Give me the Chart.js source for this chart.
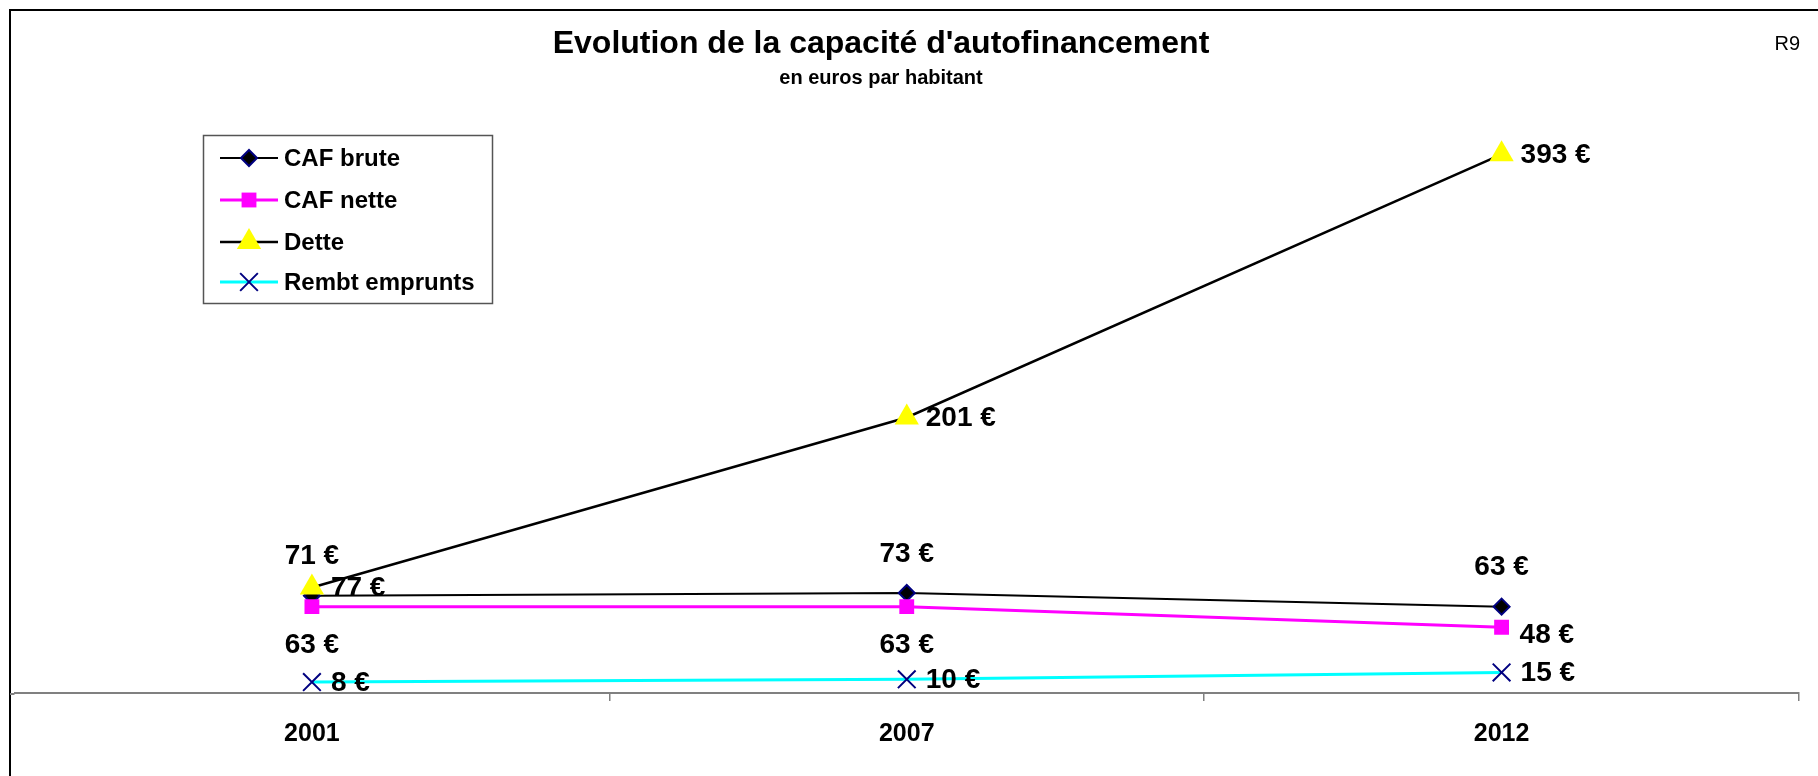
<!DOCTYPE html>
<html>
<head>
<meta charset="utf-8">
<title>Evolution de la capacité d'autofinancement</title>
<script src="https://cdn.jsdelivr.net/npm/chart.js@4.4.1/dist/chart.umd.min.js"></script>
<style>
  html, body { margin: 0; padding: 0; background: #fff; }
  #wrap { position: relative; width: 1818px; height: 776px; }
</style>
</head>
<body>
<div id="wrap"><canvas id="cafChart"></canvas></div>
<script>
// Data (euros par habitant)
const years = ['2001', '2007', '2012'];
const cafBrute = [71, 73, 63];
const cafNette = [63, 63, 48];
const dette = [77, 201, 393];
const rembt = [8, 10, 15];

const FONT = '"Liberation Sans", Arial, sans-serif';

// where each series puts its value labels
const labelPos = {
  'CAF brute': ['above', 'above', 'above'],
  'CAF nette': ['below', 'below', 'rightLow'],
  'Dette': ['right', 'right', 'right'],
  'Rembt emprunts': ['right', 'right', 'right'],
};

// Frame, titles and legend drawn on the canvas
const decorPlugin = {
  id: 'decor',
  beforeDraw(chart) {
    const c = chart.ctx;
    const area = chart.chartArea;
    c.save();
    c.strokeStyle = '#000';
    c.lineWidth = 2;
    c.beginPath();
    c.moveTo(10, 776);
    c.lineTo(10, 10);
    c.lineTo(1818, 10);
    c.stroke();
    // axis line runs up to the frame
    c.strokeStyle = '#808080';
    c.beginPath();
    c.moveTo(10, area.bottom + 1);
    c.lineTo(area.left, area.bottom + 1);
    c.stroke();
    c.restore();
  },
  afterDraw(chart) {
    const c = chart.ctx;
    c.save();
    c.fillStyle = '#000';
    c.textBaseline = 'middle';
    c.textAlign = 'center';
    c.font = 'bold 32px ' + FONT;
    c.fillText("Evolution de la capacité d'autofinancement", 881, 44);
    c.font = 'bold 20px ' + FONT;
    c.fillText('en euros par habitant', 881, 78);
    c.textAlign = 'right';
    c.font = '20px ' + FONT;
    c.fillText('R9', 1800, 44);

    // legend box
    c.strokeStyle = '#555';
    c.lineWidth = 1.5;
    c.strokeRect(203.5, 135.5, 289, 168);
    const rows = [158, 200, 242, 282];
    chart.data.datasets.forEach((ds, i) => {
      const y = rows[i];
      c.strokeStyle = ds.borderColor;
      c.lineWidth = ds.borderWidth;
      c.beginPath();
      c.moveTo(220, y);
      c.lineTo(278, y);
      c.stroke();
      c.fillStyle = ds.pointBackgroundColor;
      c.strokeStyle = ds.pointBorderColor;
      c.lineWidth = ds.pointBorderWidth;
      Chart.helpers.drawPoint(c, {
        pointStyle: ds.pointStyle,
        radius: ds.pointRadius,
        rotation: 0,
        borderWidth: ds.pointBorderWidth,
      }, 249, y);
      c.fillStyle = '#000';
      c.textAlign = 'left';
      c.font = 'bold 24px ' + FONT;
      c.fillText(ds.label, 284, y + 1);
    });
    c.restore();
  },
  afterDatasetsDraw(chart) {
    const c = chart.ctx;
    c.save();
    c.fillStyle = '#000';
    c.font = 'bold 28px ' + FONT;
    c.textBaseline = 'middle';
    chart.data.datasets.forEach((ds, i) => {
      const meta = chart.getDatasetMeta(i);
      meta.data.forEach((pt, j) => {
        const txt = ds.data[j] + ' €';
        const pos = labelPos[ds.label][j];
        if (pos === 'above') {
          c.textAlign = 'center';
          c.fillText(txt, pt.x, pt.y - 39);
        } else if (pos === 'below') {
          c.textAlign = 'center';
          c.fillText(txt, pt.x, pt.y + 39);
        } else if (pos === 'rightLow') {
          c.textAlign = 'left';
          c.fillText(txt, pt.x + 18, pt.y + 8);
        } else {
          c.textAlign = 'left';
          c.fillText(txt, pt.x + 19, pt.y + 1);
        }
      });
    });
    c.restore();
  },
};

const ctx = document.getElementById('cafChart').getContext('2d');

const chart = new Chart(ctx, {
  type: 'line',
  data: {
    labels: years,
    datasets: [
      {
        label: 'CAF brute',
        data: cafBrute,
        borderColor: '#000000',
        borderWidth: 2,
        pointStyle: 'rectRot',
        pointRadius: 8,
        pointBackgroundColor: '#000000',
        pointBorderColor: '#000080',
        pointBorderWidth: 2,
        order: 3,
      },
      {
        label: 'CAF nette',
        data: cafNette,
        borderColor: '#FF00FF',
        borderWidth: 3,
        pointStyle: 'rect',
        pointRadius: 10.5,
        pointBackgroundColor: '#FF00FF',
        pointBorderColor: '#FF00FF',
        pointBorderWidth: 0,
        order: 1,
      },
      {
        label: 'Dette',
        data: dette,
        borderColor: '#000000',
        borderWidth: 2.5,
        pointStyle: 'triangle',
        pointRadius: 14,
        pointBackgroundColor: '#FFFF00',
        pointBorderColor: '#FFFF00',
        pointBorderWidth: 0,
        order: 0,
      },
      {
        label: 'Rembt emprunts',
        data: rembt,
        borderColor: '#00FFFF',
        borderWidth: 3,
        pointStyle: 'crossRot',
        pointRadius: 12.5,
        pointBackgroundColor: '#000080',
        pointBorderColor: '#000080',
        pointBorderWidth: 2,
        order: 2,
      },
    ],
  },
  options: {
    responsive: true,
    maintainAspectRatio: false,
    animation: false,
    layout: { padding: { left: 10, right: 19, top: 10, bottom: 9 } },
    plugins: {
      legend: { display: false },
      tooltip: { enabled: false },
    },
    elements: { line: { tension: 0 } },
    scales: {
      x: {
        offset: true,
        grid: {
          offset: true,
          drawOnChartArea: false,
          drawTicks: true,
          tickLength: 8,
          // no tick mark on the left edge, the frame is there
          color: (c) => (c.index === 0 ? 'rgba(0,0,0,0)' : '#808080'),
          lineWidth: 1.5,
        },
        border: { display: true, color: '#808080', width: 2 },
        ticks: {
          color: '#000',
          padding: 18,
          font: { family: FONT, size: 25, weight: 'bold' },
        },
      },
      y: {
        display: false,
        min: 0,
        max: 495,
      },
    },
  },
  plugins: [decorPlugin],
});
</script>
</body>
</html>
